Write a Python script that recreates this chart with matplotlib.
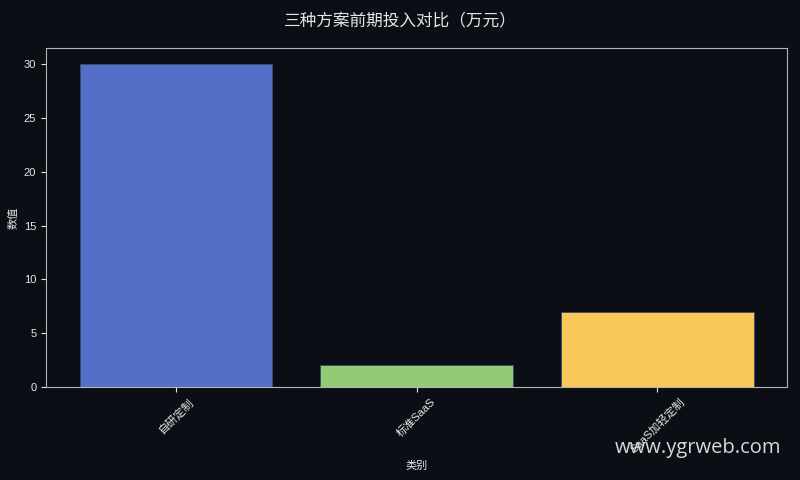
import matplotlib
matplotlib.use("Agg")
import matplotlib.pyplot as plt

plt.rcParams['font.family'] = ['Liberation Sans', 'Noto Sans CJK SC', 'DejaVu Sans']

# data
categories = ["自研定制", "标准SaaS", "SaaS加轻定制"]
values = [30, 2, 7]
bar_colors = ["#5470c6", "#91cc75", "#fac858"]

BG = "#0b0e14"
FG = "#e6e6e6"

fig = plt.figure(figsize=(8, 4.8), dpi=100, facecolor=BG)
ax = fig.add_axes([0.0575, 0.194, 0.9265, 0.706])
ax.set_facecolor(BG)

ax.bar(range(len(categories)), values, width=0.8, color=bar_colors,
       edgecolor="#3a4a70", linewidth=0.6)

ax.set_xticks(range(len(categories)))
ax.set_xticklabels(categories, rotation=45, fontsize=8, color=FG)
ax.tick_params(axis="y", labelsize=8, colors=FG)
ax.tick_params(axis="x", colors=FG)
ax.set_xlabel("类别", fontsize=8, color=FG, labelpad=4)
ax.set_ylabel("数值", fontsize=8, color=FG)
for sp in ax.spines.values():
    sp.set_color("#b4b4b4")

fig.suptitle("三种方案前期投入对比（万元）", fontsize=12, color=FG, y=0.958, va="center")
fig.text(0.976, 0.067, "www.ygrweb.com", fontsize=14.5, color="#d8d8d8",
         ha="right", va="center", family=['Open Sans', 'DejaVu Sans'])

fig.savefig("out.png", facecolor=BG)
